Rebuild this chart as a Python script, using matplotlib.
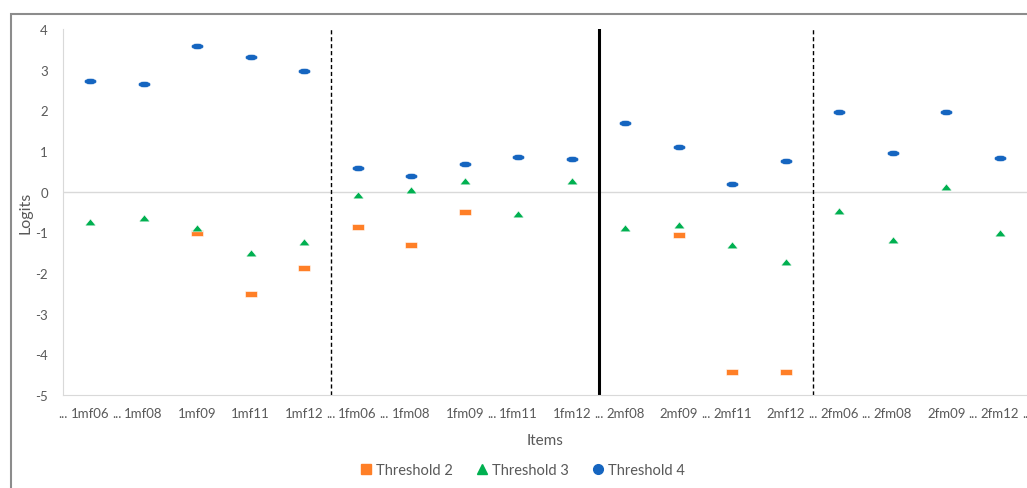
import matplotlib.pyplot as plt
import numpy as np
from matplotlib.path import Path
from matplotlib.lines import Line2D
from matplotlib.patches import Rectangle

plt.rcParams['font.family'] = ['Lato', 'DejaVu Sans']
plt.rcParams['axes.unicode_minus'] = False

items = ["1mf06", "1mf08", "1mf09", "1mf11", "1mf12",
         "1fm06", "1fm08", "1fm09", "1fm11", "1fm12",
         "2mf08", "2mf09", "2mf11", "2mf12",
         "2fm06", "2fm08", "2fm09", "2fm12"]
# category boundaries where Excel shows a truncated "..." label
gap_marks = [0, 1, 5, 6, 8, 10, 12, 14, 15, 17, 18]

nan = np.nan
threshold2 = [nan, nan, -1.01, -2.51, -1.87, -0.86, -1.31, -0.49, nan, nan,
              nan, -1.07, -4.43, -4.43, nan, nan, nan, nan]
threshold3 = [-0.74, -0.65, -0.89, -1.50, -1.23, -0.07, 0.05, 0.26, -0.54, 0.26,
              -0.89, -0.82, -1.31, -1.74, -0.47, -1.18, 0.11, -1.01]
threshold4 = [2.73, 2.64, 3.57, 3.30, 2.96, 0.57, 0.39, 0.69, 0.86, 0.81,
              1.70, 1.11, 0.19, 0.75, 1.97, 0.96, 1.97, 0.84]

# group separators (after item index)
dashed_after = [5, 14]
solid_after = [10]

# flattened excel-like markers
t = np.linspace(0, 2 * np.pi, 40)
ellipse = Path(np.column_stack([np.cos(t), 0.5 * np.sin(t)]))
rect = Path([(-1, -0.55), (1, -0.55), (1, 0.55), (-1, 0.55), (-1, -0.55)], closed=True)
tri = Path([(-1, -0.6), (1, -0.6), (0, 0.65), (-1, -0.6)], closed=True)

c2, c3, c4 = "#ff7f27", "#00b050", "#1565c0"
gray = "#595959"

fig = plt.figure(figsize=(10.27, 4.89), dpi=100)
fig.patches.append(Rectangle((11 / 1027, -0.1), 1.2, 1 - 15 / 489 + 0.1, transform=fig.transFigure,
                             fill=False, edgecolor="#8c8c8c", linewidth=1.5))
ax = fig.add_axes([63.2 / 1027, 1 - 396 / 489, (1026.8 - 63.2) / 1027, 366 / 489])

x = np.arange(1, len(items) + 1)
ax.plot(x, threshold2, linestyle="", marker=rect, markersize=8.5, color=c2, markeredgecolor="white",
        markeredgewidth=0.4, label="Threshold 2", zorder=3)
ax.plot(x, threshold3, linestyle="", marker=tri, markersize=8, color=c3, markeredgecolor="white",
        markeredgewidth=0.4, label="Threshold 3", zorder=3)
ax.plot(x, threshold4, linestyle="", marker=ellipse, markersize=9, color=c4, markeredgecolor="white",
        markeredgewidth=0.4, label="Threshold 4", zorder=3)

for k in dashed_after:
    ax.axvline(k + 0.5, color="black", linestyle=(0, (3, 2)), linewidth=1.0, zorder=2)
for k in solid_after:
    ax.axvline(k + 0.5, color="black", linewidth=2.2, zorder=2)
ax.axhline(0, color="#d9d9d9", linewidth=1.0, zorder=1)

ax.set_xlim(0.5, len(items) + 0.5)
ax.set_ylim(-5, 4)
ax.set_yticks(np.arange(-5, 5))
ax.set_xticks(x)
ax.set_xticklabels(items)
ax.tick_params(axis="both", length=0, colors=gray, labelsize=9.5)
ax.tick_params(axis="x", pad=9)
ax.tick_params(axis="y", pad=11)
for s in ["top", "right"]:
    ax.spines[s].set_visible(False)
for s in ["left", "bottom"]:
    ax.spines[s].set_color("#d9d9d9")

for g in gap_marks:
    ax.annotate("...", xy=(g + 0.5, 0), xycoords=("data", "axes fraction"),
                xytext=(0, -9), textcoords="offset points", ha="center", va="top",
                fontsize=9.5, color=gray)

ax.set_xlabel("Items", color=gray, fontsize=11, labelpad=10)
ax.set_ylabel("Logits", color=gray, fontsize=11.5, labelpad=2)

handles = [Line2D([], [], linestyle="", marker="s", markersize=6.5, color=c2),
           Line2D([], [], linestyle="", marker="^", markersize=7, color=c3),
           Line2D([], [], linestyle="", marker="o", markersize=7, color=c4)]
fig.legend(handles, ["Threshold 2", "Threshold 3", "Threshold 4"], loc="center",
           bbox_to_anchor=(521 / 1027, 1 - 471 / 489), ncol=3, frameon=False,
           fontsize=10.5, labelcolor=gray, handletextpad=0.1, columnspacing=1.4, handlelength=1.2)

fig.savefig("out.png", dpi=100)
